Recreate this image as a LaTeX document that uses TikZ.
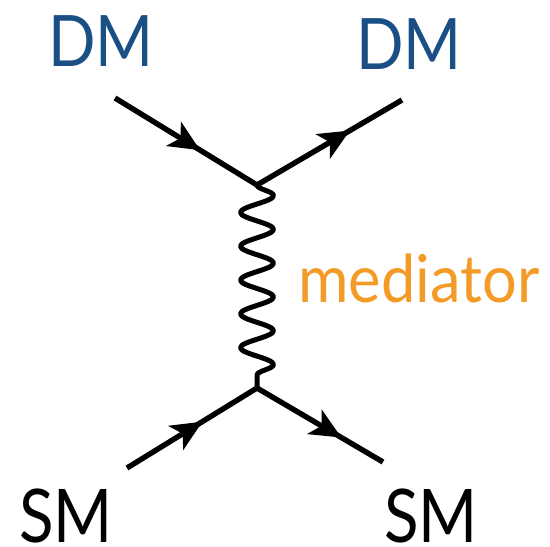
\documentclass[tikz,border=0pt]{standalone}
\usepackage{fontspec}
\setmainfont{Lato}
\usetikzlibrary{arrows.meta,decorations.markings,decorations.pathmorphing}
\definecolor{dmblue}{HTML}{1A4F86}
\definecolor{medorange}{HTML}{F39A27}
\begin{document}
\begin{tikzpicture}[x=1pt,y=-1pt,
  fermion/.style={line width=5.4pt,
    postaction={decorate,decoration={markings,
      mark=at position #1 with {\arrow{Stealth[length=31pt,width=28pt,inset=8pt]}}}}},
  fermion/.default=0.6,
  boson/.style={line width=5pt,line cap=round,line join=round,
    decorate,decoration={snake,segment length=33.8pt,amplitude=16.5pt}},
  dmlabel/.style={font=\fontsize{71}{71}\selectfont,text=dmblue,inner sep=0pt,anchor=base west,text depth=0pt},
  smlabel/.style={font=\fontsize{74}{74}\selectfont,text=black,inner sep=0pt,anchor=base west,text depth=0pt},
  medlabel/.style={font=\fontsize{66}{66}\selectfont,text=medorange,inner sep=0pt,anchor=base west}]
\useasboundingbox (0,0) rectangle (550,547);
\coordinate (v1) at (257,185);
\coordinate (v2) at (257,388);
\coordinate (a) at (115,98);
\coordinate (b) at (402,100);
\coordinate (c) at (127,468);
\coordinate (d) at (383,462);
\draw[fermion=0.6] (a) -- (v1);
\draw[fermion=0.64] (v1) -- (b);
\draw[fermion=0.58] (c) -- (v2);
\draw[fermion=0.67] (v2) -- (d);
\draw[boson] (v1) -- (v2);
\node[dmlabel] (dm1) at (48,66) {\scalebox{0.88}[1]{\smash{DM}}};
\node[dmlabel] (dm2) at (356,69) {\scalebox{0.88}[1]{\smash{DM}}};
\node[medlabel] (med) at (298,302) {\scalebox{0.93}[1]{mediator}};
\node[smlabel] (sm1) at (19,542) {\scalebox{0.86}[1]{\smash{SM}}};
\node[smlabel] (sm2) at (384,542) {\scalebox{0.86}[1]{\smash{SM}}};
\end{tikzpicture}
\end{document}
